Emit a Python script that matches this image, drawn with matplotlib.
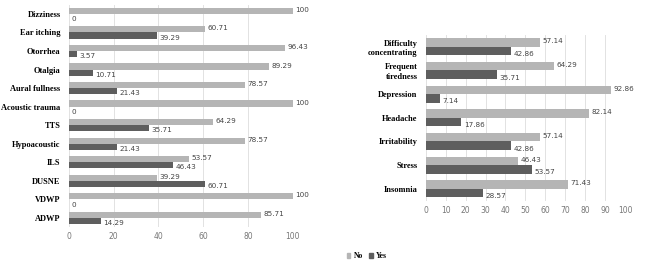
import numpy as np
import matplotlib.pyplot as plt

# left panel (otologic symptoms)
left_cats = ['Dizziness', 'Ear itching', 'Otorrhea', 'Otalgia', 'Aural fullness',
             'Acoustic trauma', 'TTS', 'Hypoacoustic', 'ILS', 'DUSNE', 'VDWP', 'ADWP']
left_no = [100, 60.71, 96.43, 89.29, 78.57, 100, 64.29, 78.57, 53.57, 39.29, 100, 85.71]
left_yes = [0, 39.29, 3.57, 10.71, 21.43, 0, 35.71, 21.43, 46.43, 60.71, 0, 14.29]

# right panel (non-auditory symptoms)
right_cats = ['Difficulty\nconcentrating', 'Frequent\ntiredness', 'Depression', 'Headache',
              'Irritability', 'Stress', 'Insomnia']
right_no = [57.14, 64.29, 92.86, 82.14, 57.14, 46.43, 71.43]
right_yes = [42.86, 35.71, 7.14, 17.86, 42.86, 53.57, 28.57]

c_no = '#b5b5b5'
c_yes = '#5e5e5e'
serif = ['Liberation Serif', 'DejaVu Serif']


def fmt(v):
    return '0' if v == 0 else ('100' if v == 100 else f'{v:.2f}')


def panel(ax, cats, no, yes, h, ticks, fs_lab):
    y = np.arange(len(cats))
    ax.barh(y - h / 2, no, height=h, color=c_no, zorder=2)
    ax.barh(y + h / 2, yes, height=h, color=c_yes, zorder=2)
    for yi, v in zip(y, no):
        ax.text(v + 1.2, yi - h * 0.65, fmt(v), fontsize=5.2, color='#444444', va='center')
    for yi, v in zip(y, yes):
        ax.text(v + 1.2, yi + h * 0.85, fmt(v), fontsize=5.2, color='#444444', va='center')
    ax.set_yticks(y)
    ax.set_yticklabels(cats, fontfamily=serif, fontweight='bold', fontsize=fs_lab)
    ax.set_xlim(0, 100)
    ax.set_xticks(ticks)
    ax.tick_params(axis='x', labelsize=5.5, labelcolor='#777777', length=0)
    ax.tick_params(axis='y', length=0, pad=6)
    ax.set_ylim(len(cats) - 0.5, -0.5)
    ax.grid(axis='x', color='#e2e2e2', lw=0.7, zorder=0)
    for s in ax.spines.values():
        s.set_visible(False)


fig = plt.figure(figsize=(6.49, 2.72), dpi=100)
ax1 = fig.add_axes([0.106, 0.165, 0.345, 0.818])
ax2 = fig.add_axes([0.656, 0.262, 0.307, 0.610])

panel(ax1, left_cats, left_no, left_yes, 0.33, range(0, 101, 20), 6)
panel(ax2, right_cats, right_no, right_yes, 0.36, range(0, 101, 10), 6)

handles = [plt.Rectangle((0, 0), 1, 1, color=c_no), plt.Rectangle((0, 0), 1, 1, color=c_yes)]
fig.legend(handles, ['No', 'Yes'], loc='center', bbox_to_anchor=(0.565, 0.058), ncol=2,
           frameon=False, handlelength=0.5, handleheight=0.5, handletextpad=0.4,
           columnspacing=0.8, prop={'family': serif, 'weight': 'bold', 'size': 5.5})

fig.savefig('out.png', dpi=100)
